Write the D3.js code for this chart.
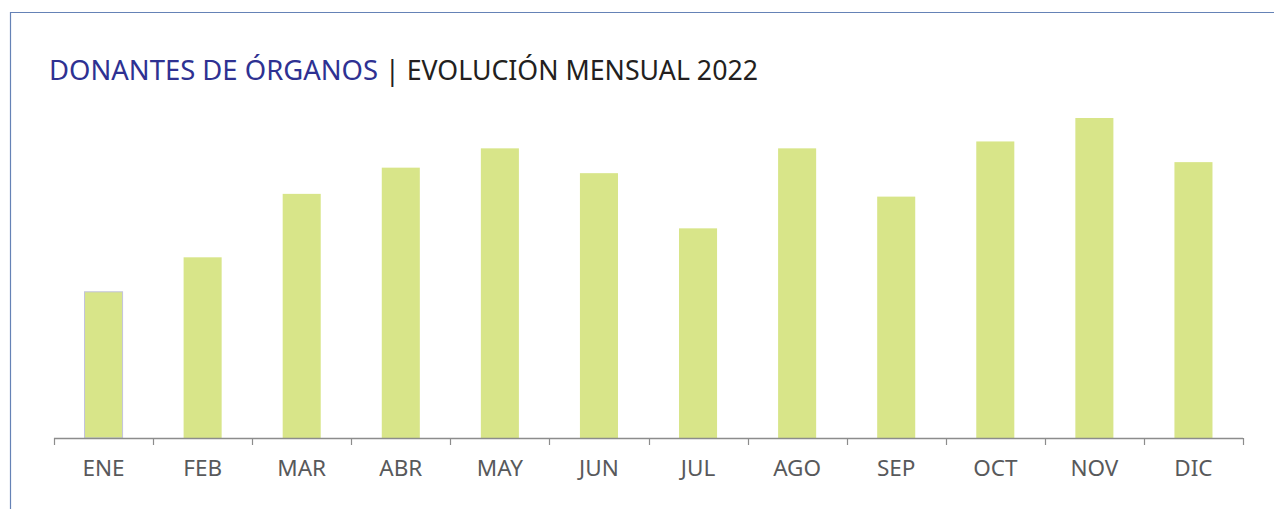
<!DOCTYPE html>
<html>
<head>
<meta charset="utf-8">
<script src="https://cdn.jsdelivr.net/npm/d3@7"></script>
<style>
  body { margin: 0; background: #fff; }
  svg { display: block; font-family: "Noto Sans", sans-serif; }
</style>
</head>
<body>
<div id="chart"></div>
<script>
// datos mensuales
var months = ["ENE", "FEB", "MAR", "ABR", "MAY", "JUN", "JUL", "AGO", "SEP", "OCT", "NOV", "DIC"];
var donors = [106, 131, 177, 196, 210, 192, 152, 210, 175, 215, 232, 200];

var w = 1274;
var h = 509;
var svg = d3.select("#chart")
    .append("svg")
    .attr("width", w)
    .attr("height", h);

// marco
svg.append("path")
    .attr("d", "M10.5," + h + "V12.5H" + w)
    .attr("fill", "none")
    .attr("stroke", "#6582b6")
    .attr("stroke-width", 1.2);

// titulo
svg.append("text")
    .attr("x", 49)
    .attr("y", 80)
    .attr("font-size", 28)
    .attr("fill", "#2e3192")
    .attr("textLength", 329)
    .attr("lengthAdjust", "spacingAndGlyphs")
    .text("DONANTES DE ÓRGANOS");
svg.append("text")
    .attr("x", 385)
    .attr("y", 80)
    .attr("font-size", 28)
    .attr("fill", "#231f20")
    .attr("textLength", 373)
    .attr("lengthAdjust", "spacingAndGlyphs")
    .text("| EVOLUCIÓN MENSUAL 2022");

var x = d3.scaleBand()
    .domain(months)
    .range([54, 1243])
    .paddingInner(0.616)
    .paddingOuter(0.308);

var y = d3.scaleLinear()
    .domain([0, 232])
    .range([438, 118]);

svg.selectAll("rect.bar")
    .data(donors)
    .enter()
    .append("rect")
    .attr("class", "bar")
    .attr("x", function(d, i) { return x(months[i]); })
    .attr("y", function(d) { return y(d); })
    .attr("width", x.bandwidth())
    .attr("height", function(d) { return y(0) - y(d); })
    .attr("fill", "#d8e589")
    .attr("stroke", function(d, i) { return i === 0 ? "#c3c3dc" : "none"; });

// eje
var axis = svg.append("g");
axis.append("line")
    .attr("x1", 54).attr("x2", 1243)
    .attr("y1", 438.5).attr("y2", 438.5)
    .attr("stroke", "#8c8c8c")
    .attr("stroke-width", 1.5);

var bounds = months.map(function(m) { return x(m) - x.step() * x.paddingOuter(); });
bounds.push(1243);
axis.selectAll("line.tick")
    .data(bounds)
    .enter()
    .append("line")
    .attr("class", "tick")
    .attr("x1", function(d) { return Math.round(d) + 0.5; })
    .attr("x2", function(d) { return Math.round(d) + 0.5; })
    .attr("y1", 438)
    .attr("y2", 445)
    .attr("stroke", "#8c8c8c")
    .attr("stroke-width", 1.2);

axis.selectAll("text")
    .data(months)
    .enter()
    .append("text")
    .attr("x", function(d) { return x(d) + x.bandwidth() / 2; })
    .attr("y", 476)
    .attr("text-anchor", "middle")
    .attr("font-size", 22.5)
    .attr("fill", "#58595b")
    .text(function(d) { return d; });
</script>
</body>
</html>
